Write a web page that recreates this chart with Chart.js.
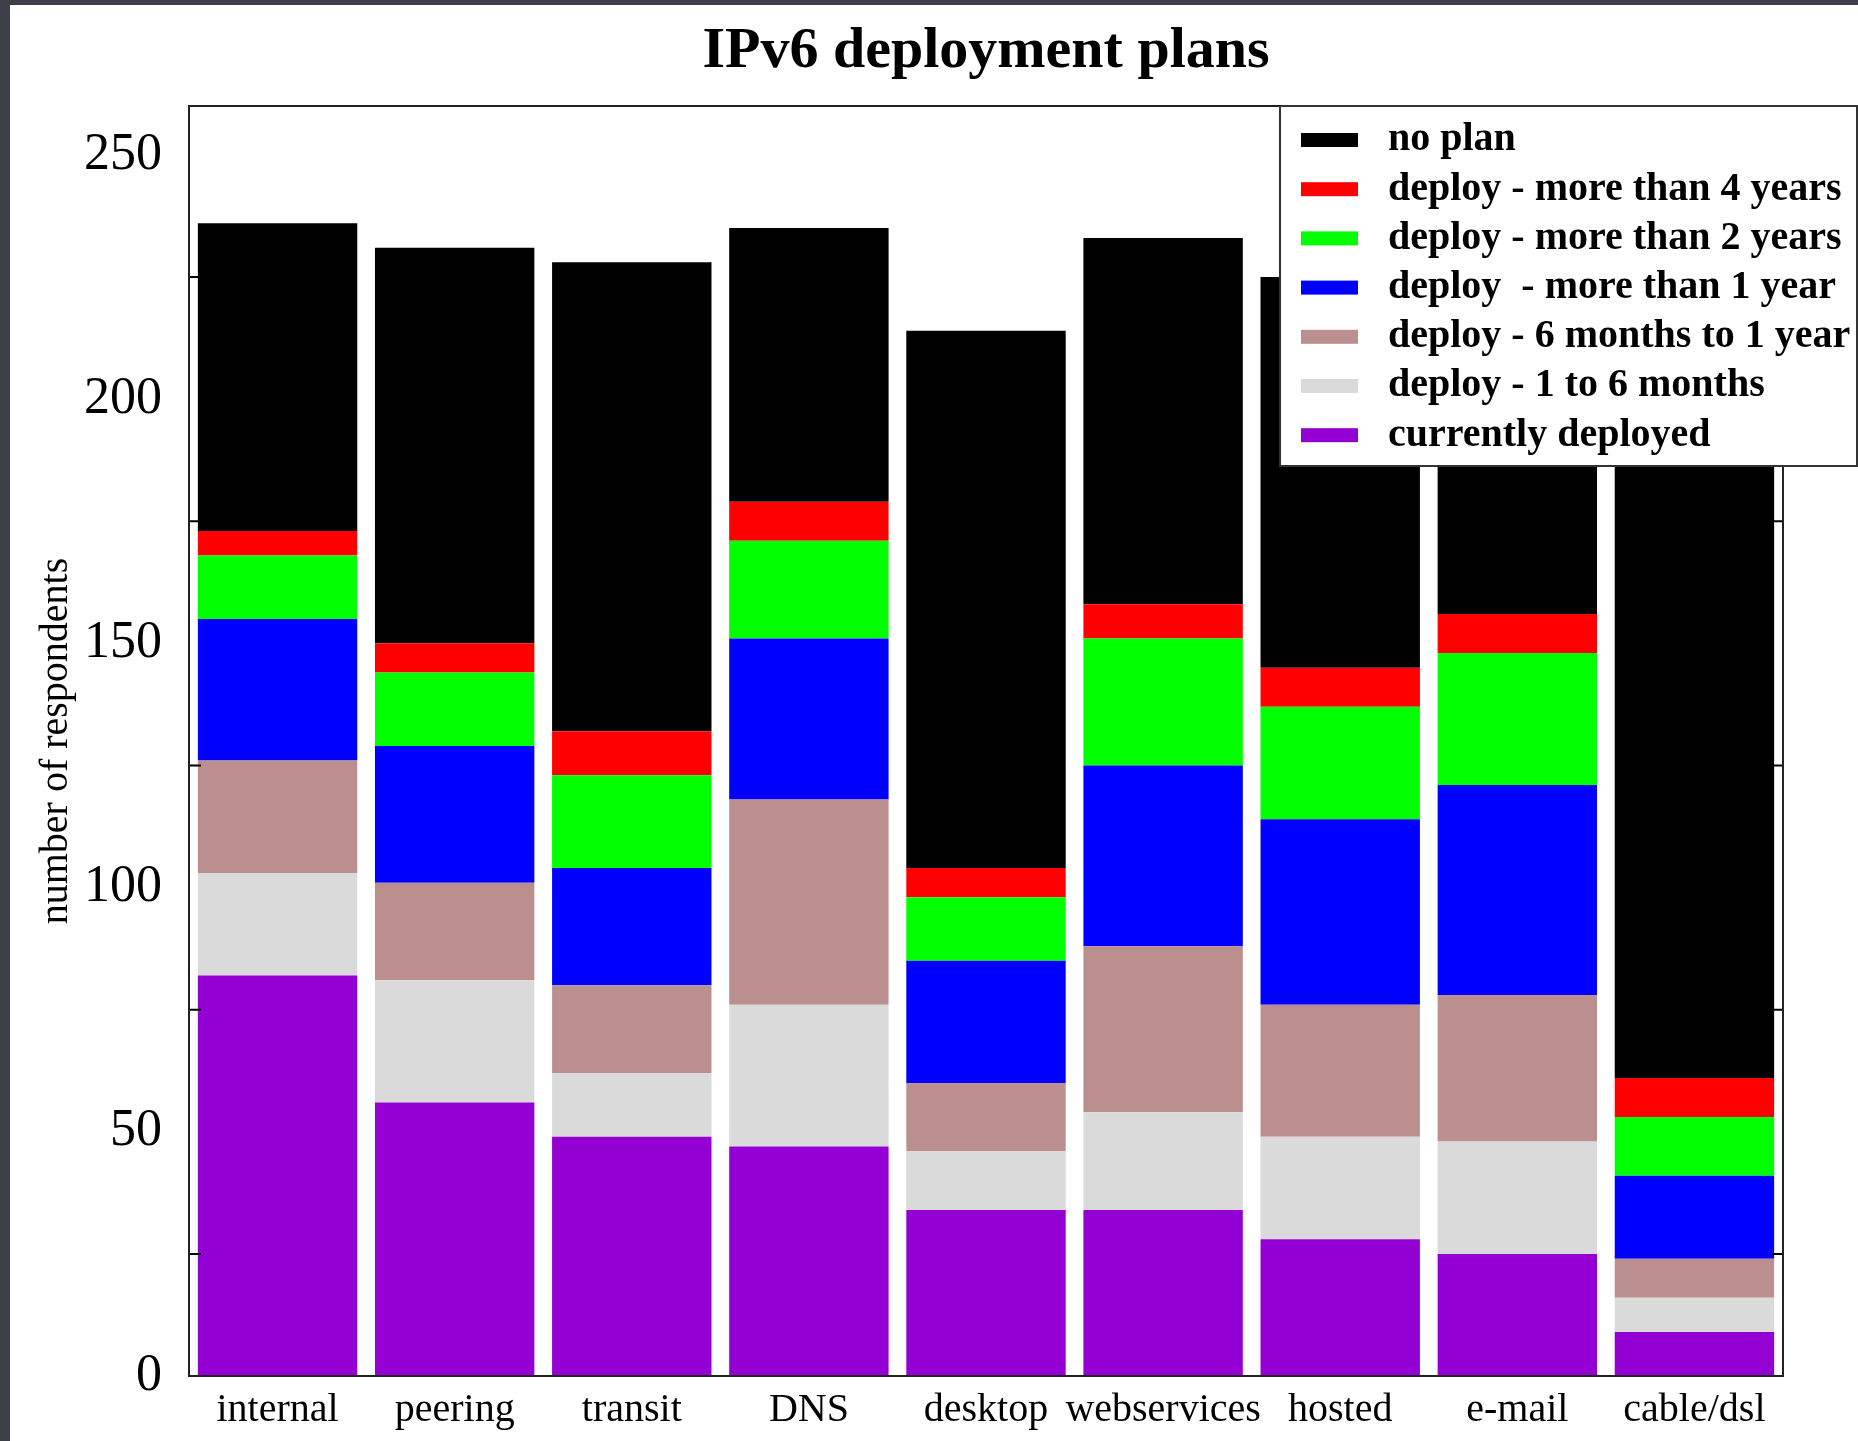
<!DOCTYPE html>
<html>
<head>
<meta charset="utf-8">
<title>IPv6 deployment plans</title>
<script src="https://cdn.jsdelivr.net/npm/chart.js@4.4.1/dist/chart.umd.min.js"></script>
<style>
  html, body { margin: 0; padding: 0; }
  body { background: #3d4048; width: 1858px; height: 1441px; overflow: hidden; }
  #panel { position: absolute; left: 10px; top: 5px; width: 1848px; height: 1436px; background: #fff; }
  canvas { display: block; }
</style>
</head>
<body>
<div id="panel"><canvas id="myChart" width="1848" height="1436"></canvas></div>
<script>
// values, bottom segment first
const categories = ["internal", "peering", "transit", "DNS", "desktop", "webservices", "hosted", "e-mail", "cable/dsl"];
const currentlyDeployed  = [82, 56, 49, 47, 34, 34, 28, 25, 9];
const oneToSixMonths     = [21, 25, 13, 29, 12, 20, 21, 23, 7];
const sixMonthsToOneYear = [23, 20, 18, 42, 14, 34, 27, 30, 8];
const moreThanOneYear    = [29, 28, 24, 33, 25, 37, 38, 43, 17];
const moreThanTwoYears   = [13, 15, 19, 20, 13, 26, 23, 27, 12];
const moreThanFourYears  = [5, 6, 9, 8, 6, 7, 8, 8, 8];
const noPlan             = [63, 81, 96, 56, 110, 75, 80, 73, 165];

const yTickValues = [0, 50, 100, 150, 200, 250];
const yMinorTicks = [25, 75, 125, 175, 225];

const serif = "'Liberation Serif', 'Times New Roman', serif";

// plot frame and the small inward ticks on both sides
const frame = {
  id: "frame",
  afterDatasetsDraw(chart) {
    const { ctx, chartArea: a, scales: { y } } = chart;
    ctx.save();
    ctx.strokeStyle = "#000";
    ctx.lineWidth = 2;
    yMinorTicks.forEach((v) => {
      const py = y.getPixelForValue(v);
      ctx.beginPath();
      ctx.moveTo(a.left, py);
      ctx.lineTo(a.left + 12, py);
      ctx.moveTo(a.right, py);
      ctx.lineTo(a.right - 12, py);
      ctx.stroke();
    });
    ctx.strokeStyle = "#222";
    ctx.strokeRect(a.left, a.top, a.right - a.left, a.bottom - a.top);
    ctx.restore();
  },
};

// boxed legend sitting over the top right of the plot
const legendBox = {
  id: "legendBox",
  afterDraw(chart) {
    const { ctx, chartArea: a } = chart;
    const x0 = a.right - 503;
    const y0 = a.top;
    const w = chart.width - x0 - 1;
    const h = 360;
    ctx.save();
    ctx.fillStyle = "#fff";
    ctx.fillRect(x0, y0, w, h);
    ctx.strokeStyle = "#333";
    ctx.lineWidth = 2;
    ctx.strokeRect(x0, y0, w, h);
    ctx.font = "bold 40px " + serif;
    ctx.textBaseline = "middle";
    const items = chart.data.datasets.slice().reverse();
    items.forEach((ds, i) => {
      const cy = y0 + 34 + i * 49.2;
      ctx.fillStyle = ds.backgroundColor;
      ctx.fillRect(x0 + 21, cy - 7, 57, 14);
      ctx.fillStyle = "#000";
      ctx.fillText(ds.label, x0 + 108, cy);
    });
    ctx.restore();
  },
};

const ctx = document.getElementById("myChart").getContext("2d");
const myChart = new Chart(ctx, {
  type: "bar",
  data: {
    labels: categories,
    datasets: [
      { label: "currently deployed", data: currentlyDeployed, backgroundColor: "#9400d3" },
      { label: "deploy - 1 to 6 months", data: oneToSixMonths, backgroundColor: "#dadada" },
      { label: "deploy - 6 months to 1 year", data: sixMonthsToOneYear, backgroundColor: "#bc8f8f" },
      { label: "deploy  - more than 1 year", data: moreThanOneYear, backgroundColor: "#0000ff" },
      { label: "deploy - more than 2 years", data: moreThanTwoYears, backgroundColor: "#00ff00" },
      { label: "deploy - more than 4 years", data: moreThanFourYears, backgroundColor: "#ff0000" },
      { label: "no plan", data: noPlan, backgroundColor: "#000000" },
    ],
  },
  options: {
    responsive: false,
    animation: false,
    barPercentage: 0.9,
    categoryPercentage: 1.0,
    layout: { padding: { top: 0, right: 75, bottom: 0, left: 0 } },
    plugins: {
      legend: { display: false },
      tooltip: { enabled: false },
      title: {
        display: true,
        text: "IPv6 deployment plans",
        fullSize: false,
        color: "#000",
        font: { family: serif, size: 58, weight: "bold" },
        padding: { top: 12, bottom: 19.4 },
      },
    },
    scales: {
      x: {
        stacked: true,
        grid: { display: false },
        border: { display: false },
        afterFit: (s) => { s.height = 65; },
        ticks: {
          color: "#000",
          padding: 2,
          maxRotation: 0,
          autoSkip: false,
          font: { family: serif, size: 40 },
        },
      },
      y: {
        stacked: true,
        min: 0,
        max: 260,
        afterBuildTicks: (s) => { s.ticks = yTickValues.map((v) => ({ value: v })); },
        afterFit: (s) => { s.width = 179; },
        grid: { display: false },
        border: { display: false },
        ticks: {
          color: "#000",
          padding: 19,
          font: { family: serif, size: 52 },
        },
        title: {
          display: true,
          text: "number of respondents",
          color: "#000",
          font: { family: serif, size: 40 },
          padding: { top: 22, bottom: 0 },
        },
      },
    },
  },
  plugins: [frame, legendBox],
});
</script>
</body>
</html>
